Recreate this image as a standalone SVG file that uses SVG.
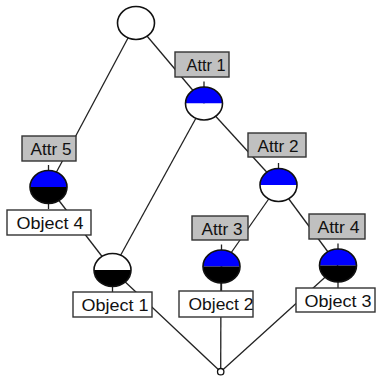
<svg xmlns="http://www.w3.org/2000/svg" xmlns:xlink="http://www.w3.org/1999/xlink" width="377" height="377" viewBox="0 0 377 377">
  <style>
    .edge { stroke: #222; stroke-width: 1.3; fill: none; }
    .stub { stroke: #222; stroke-width: 1.3; }
    .ring { fill: none; stroke: #111; stroke-width: 1.6; }
    .blue { fill: #0000ff; }
    .black { fill: #000; }
    .white { fill: #fff; }
    .attr rect { fill: #c0c0c0; stroke: #333; stroke-width: 1.4; }
    .obj rect { fill: #fff; stroke: #333; stroke-width: 1.4; }
    text { font-family: "Liberation Sans", Arial, sans-serif; font-size: 17px; fill: #111; }
  </style>
  <defs>
    <path id="upper" d="M-18.5,0 A18.5,16.5 0 0 1 18.5,0 Z"/>
    <path id="lower" d="M-18.5,0 A18.5,16.5 0 0 0 18.5,0 Z"/>
    <ellipse id="outline" cx="0" cy="0" rx="18.5" ry="16.5"/>
  </defs>

  <!-- lattice edges -->
  <g id="connectors">
    <line class="edge" x1="136" y1="23" x2="48.5" y2="187"/>
    <line class="edge" x1="136" y1="23" x2="204" y2="103.5"/>
    <line class="edge" x1="204" y1="103.5" x2="112.5" y2="270"/>
    <line class="edge" x1="204" y1="103.5" x2="278.5" y2="185"/>
    <line class="edge" x1="48.5" y1="187" x2="112.5" y2="270"/>
    <line class="edge" x1="278.5" y1="185" x2="221.5" y2="266.5"/>
    <line class="edge" x1="278.5" y1="185" x2="338" y2="265.5"/>
    <line class="edge" x1="112.5" y1="270" x2="220.7" y2="371.7"/>
    <line class="edge" x1="221" y1="266.5" x2="220.7" y2="371.7"/>
    <line class="edge" x1="338" y1="265.5" x2="220.7" y2="371.7"/>
  </g>

  <!-- top concept -->
  <g id="top">
    <ellipse cx="136" cy="23" rx="18.5" ry="16.5" class="white"/>
    <use xlink:href="#outline" x="136" y="23" class="ring"/>
  </g>

  <!-- concept with Attr 1 -->
  <g id="attr1">
    <line class="stub" x1="204" y1="81.5" x2="204" y2="87"/>
    <g transform="translate(204,103.5)">
      <use xlink:href="#upper" class="blue"/>
      <use xlink:href="#lower" class="white"/>
      <use xlink:href="#outline" class="ring"/>
    </g>
    <g class="attr">
      <rect x="175" y="52" width="54" height="25"/>
      <text x="186.5" y="70.5" textLength="39" lengthAdjust="spacingAndGlyphs">Attr 1</text>
    </g>
  </g>

  <!-- concept with Attr 5 / Object 4 -->
  <g id="attr5">
    <line class="stub" x1="48.5" y1="165" x2="48.5" y2="171"/>
    <line class="stub" x1="48.5" y1="203" x2="48.5" y2="209"/>
    <g transform="translate(48.5,187)">
      <use xlink:href="#upper" class="blue"/>
      <use xlink:href="#lower" class="black"/>
      <use xlink:href="#outline" class="ring"/>
    </g>
    <g class="attr">
      <rect x="22" y="136" width="54" height="25"/>
      <text x="30.5" y="154.5" textLength="41" lengthAdjust="spacingAndGlyphs">Attr 5</text>
    </g>
    <g class="obj">
      <rect x="7" y="210" width="84" height="25"/>
      <text x="16.5" y="229" textLength="67" lengthAdjust="spacingAndGlyphs">Object 4</text>
    </g>
  </g>

  <!-- concept with Attr 2 -->
  <g id="attr2">
    <line class="stub" x1="278.5" y1="163" x2="278.5" y2="169"/>
    <g transform="translate(278.5,185)">
      <use xlink:href="#upper" class="blue"/>
      <use xlink:href="#lower" class="white"/>
      <use xlink:href="#outline" class="ring"/>
    </g>
    <g class="attr">
      <rect x="248" y="133" width="58" height="24"/>
      <text x="257.5" y="151.5" textLength="41" lengthAdjust="spacingAndGlyphs">Attr 2</text>
    </g>
  </g>

  <!-- concept with Object 1 -->
  <g id="object1">
    <line class="stub" x1="112.5" y1="286" x2="112.5" y2="292"/>
    <g transform="translate(112.5,270)">
      <use xlink:href="#upper" class="white"/>
      <use xlink:href="#lower" class="black"/>
      <use xlink:href="#outline" class="ring"/>
    </g>
    <g class="obj">
      <rect x="73" y="292" width="79" height="25"/>
      <text x="81.5" y="311" textLength="67" lengthAdjust="spacingAndGlyphs">Object 1</text>
    </g>
  </g>

  <!-- concept with Attr 3 / Object 2 -->
  <g id="attr3">
    <line class="stub" x1="221.5" y1="244.5" x2="221.5" y2="250"/>
    <line class="stub" x1="221.5" y1="282" x2="221.5" y2="291"/>
    <g transform="translate(221.5,266.5)">
      <use xlink:href="#upper" class="blue"/>
      <use xlink:href="#lower" class="black"/>
      <use xlink:href="#outline" class="ring"/>
    </g>
    <g class="attr">
      <rect x="192" y="216" width="56" height="24"/>
      <text x="201.5" y="234.5" textLength="41" lengthAdjust="spacingAndGlyphs">Attr 3</text>
    </g>
    <g class="obj">
      <rect x="179" y="291" width="74" height="26"/>
      <text x="188.5" y="310" textLength="65" lengthAdjust="spacingAndGlyphs">Object 2</text>
    </g>
  </g>

  <!-- concept with Attr 4 / Object 3 -->
  <g id="attr4">
    <line class="stub" x1="338" y1="243.5" x2="338" y2="249"/>
    <line class="stub" x1="338" y1="281" x2="338" y2="288"/>
    <g transform="translate(338,265.5)">
      <use xlink:href="#upper" class="blue"/>
      <use xlink:href="#lower" class="black"/>
      <use xlink:href="#outline" class="ring"/>
    </g>
    <g class="attr">
      <rect x="309" y="214" width="56" height="25"/>
      <text x="317.5" y="232.5" textLength="42" lengthAdjust="spacingAndGlyphs">Attr 4</text>
    </g>
    <g class="obj">
      <rect x="296" y="288" width="79" height="24"/>
      <text x="304.5" y="307" textLength="67" lengthAdjust="spacingAndGlyphs">Object 3</text>
    </g>
  </g>

  <!-- bottom concept -->
  <g id="bottom">
    <circle cx="220.7" cy="371.7" r="3.2" fill="#fff" stroke="#111" stroke-width="1.3"/>
  </g>
</svg>
